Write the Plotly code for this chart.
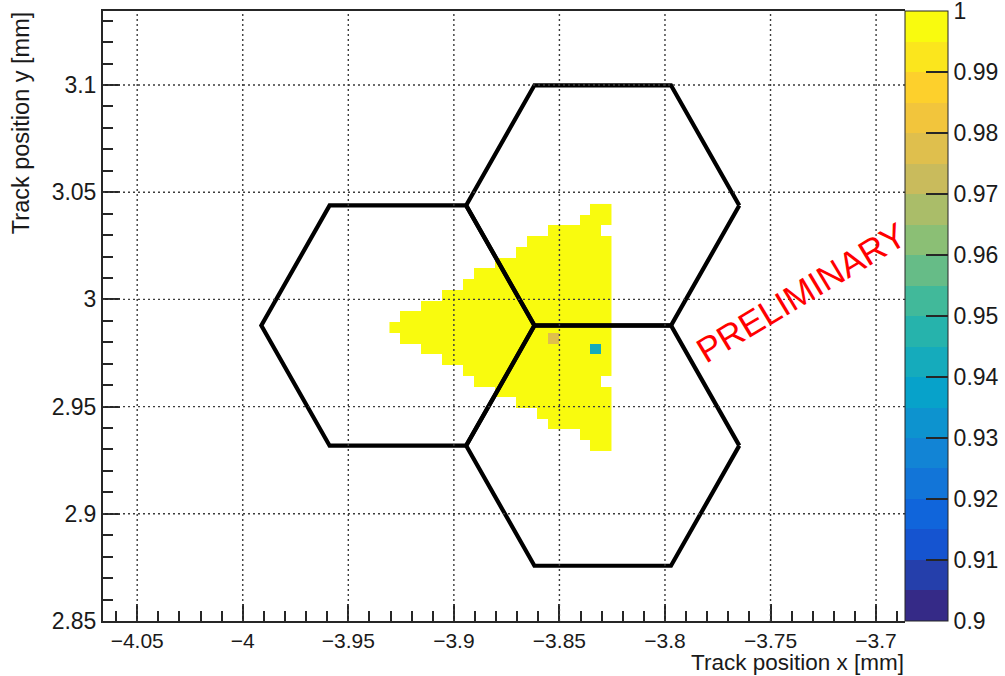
import numpy as np
import plotly.graph_objects as go

# ---- histogram binning (mm) ----
x_first_edge = -3.9305
y_first_edge = 2.9295
bin_size = 0.005
n_x_bins = 21
n_y_bins = 23

# filled bins per row, counted from the right-most column, rows listed top to bottom
filled_per_row = [2, 3, 6, 8, 9, 11, 13, 14, 16, 18, 20, 21,
                  20, 18, 16, 14, 13, 11, 9, 7, 6, 3, 2]

# efficiency of the scanned bins
base_eff = 1.0

# bins inside the scanned area without entries
empty_x = [-3.828, -3.828]
empty_y = [3.032, 2.962]

# bins with efficiency below 1
low_x = [-3.853, -3.833]
low_y = [2.982, 2.977]
low_eff = [0.978, 0.942]

# pixel cells (hexagonal, flat-top)
hex_center_x = [-3.9265, -3.8295, -3.8295]
hex_center_y = [2.9878, 3.0438, 2.9318]
hex_radius = 0.0647

# axes
x_range = [-4.0662, -3.6863]
y_range = [2.85, 3.1345]
x_tick_vals = [-4.05, -4.0, -3.95, -3.9, -3.85, -3.8, -3.75, -3.7]
x_tick_text = ["\u22124.05", "\u22124", "\u22123.95", "\u22123.9", "\u22123.85",
               "\u22123.8", "\u22123.75", "\u22123.7"]
y_tick_vals = [2.85, 2.9, 2.95, 3.0, 3.05, 3.1]
y_tick_text = ["2.85", "2.9", "2.95", "3", "3.05", "3.1"]
z_tick_vals = [0.9, 0.91, 0.92, 0.93, 0.94, 0.95, 0.96, 0.97, 0.98, 0.99, 1.0]
z_tick_text = ["0.9", "0.91", "0.92", "0.93", "0.94", "0.95", "0.96",
               "0.97", "0.98", "0.99", "1"]
z_min, z_max = 0.9, 1.0
n_levels = 20

# ---- build the 2D efficiency map ----
x_centers = x_first_edge + bin_size * (np.arange(n_x_bins) + 0.5)
y_centers = y_first_edge + bin_size * (np.arange(n_y_bins) + 0.5)
z = np.full((n_y_bins, n_x_bins), np.nan)
for r, n in enumerate(filled_per_row):
    k = n_y_bins - 1 - r
    z[k, n_x_bins - n:] = base_eff


def bin_index(x, y):
    i = int(round((x - x_first_edge) / bin_size - 0.5))
    k = int(round((y - y_first_edge) / bin_size - 0.5))
    return k, i


for ex, ey in zip(empty_x, empty_y):
    k, i = bin_index(ex, ey)
    z[k, i] = np.nan
for lx, ly, lv in zip(low_x, low_y, low_eff):
    k, i = bin_index(lx, ly)
    z[k, i] = lv

z_list = [[None if np.isnan(v) else float(v) for v in row] for row in z]

# ---- ROOT "bird" palette, discretised into contour levels ----
bird_stops = [0.0, 0.125, 0.25, 0.375, 0.5, 0.625, 0.75, 0.875, 1.0]
bird_r = [0.2082, 0.0592, 0.0780, 0.0232, 0.1802, 0.5301, 0.8186, 0.9956, 0.9764]
bird_g = [0.1664, 0.3599, 0.5041, 0.6419, 0.7178, 0.7492, 0.7328, 0.7862, 0.9832]
bird_b = [0.5293, 0.8684, 0.8385, 0.7914, 0.6425, 0.4662, 0.3499, 0.1968, 0.0539]


def bird(t):
    r = np.interp(t, bird_stops, bird_r)
    g = np.interp(t, bird_stops, bird_g)
    b = np.interp(t, bird_stops, bird_b)
    return "rgb(%d,%d,%d)" % (round(r * 255), round(g * 255), round(b * 255))


colorscale = []
for lvl in range(n_levels):
    c = bird(lvl / (n_levels - 1))
    colorscale.append([lvl / n_levels, c])
    colorscale.append([(lvl + 1) / n_levels, c])

axis_color = "#262626"
text_color = "#1a1a1a"
font_family = "Liberation Sans, Arial, Helvetica, sans-serif"

fig = go.Figure()

fig.add_trace(go.Heatmap(
    x=x_centers, y=y_centers, z=z_list,
    zmin=z_min, zmax=z_max, colorscale=colorscale,
    hoverongaps=False,
    colorbar=dict(
        x=1.0, xanchor="left", xpad=0,
        y=0.5, yanchor="middle", ypad=0,
        len=1.0, lenmode="fraction",
        thickness=43, thicknessmode="pixels",
        outlinewidth=1, outlinecolor=axis_color,
        ticks="inside", ticklen=22, tickwidth=2, tickcolor=axis_color,
        tickmode="array", tickvals=z_tick_vals, ticktext=z_tick_text,
        ticklabeloverflow="allow",
        tickfont=dict(family=font_family, size=23, color=text_color),
    ),
))

# hexagonal pixel outlines
angles = np.deg2rad(np.arange(0, 361, 60))
for cx, cy in zip(hex_center_x, hex_center_y):
    fig.add_trace(go.Scatter(
        x=cx + hex_radius * np.cos(angles),
        y=cy + hex_radius * np.sin(angles),
        mode="lines", line=dict(color="black", width=4.2),
        hoverinfo="skip", showlegend=False,
    ))

# dotted grid drawn on top of the map
grid_style = dict(color="#3c3c3c", width=1.4, dash="2px,3px")
for xv in x_tick_vals:
    fig.add_shape(type="line", xref="x", yref="paper", x0=xv, x1=xv, y0=0, y1=1,
                  line=grid_style, layer="above")
for yv in y_tick_vals[1:]:
    fig.add_shape(type="line", xref="paper", yref="y", x0=0, x1=1, y0=yv, y1=yv,
                  line=grid_style, layer="above")

fig.update_xaxes(
    range=x_range, showgrid=False, zeroline=False,
    showline=True, linewidth=2, linecolor=axis_color, mirror=True,
    ticks="inside", ticklen=17, tickwidth=1.5, tickcolor=axis_color,
    tickmode="array", tickvals=x_tick_vals, ticktext=x_tick_text,
    tickfont=dict(family=font_family, size=21, color=text_color),
    minor=dict(ticks="inside", ticklen=10, tickwidth=1.5, tickcolor=axis_color,
               tickmode="linear", tick0=-4.05, dtick=0.01, showgrid=False),
)
fig.update_yaxes(
    range=y_range, showgrid=False, zeroline=False,
    showline=True, linewidth=2, linecolor=axis_color, mirror=False,
    ticks="inside", ticklen=17, tickwidth=1.5, tickcolor=axis_color,
    tickmode="array", tickvals=y_tick_vals, ticktext=y_tick_text,
    tickfont=dict(family=font_family, size=23, color=text_color),
    minor=dict(ticks="inside", ticklen=10, tickwidth=1.5, tickcolor=axis_color,
               tickmode="linear", tick0=2.85, dtick=0.01, showgrid=False),
)

fig.add_annotation(
    text="Track position x [mm]", xref="paper", yref="paper",
    x=1.0, y=-0.0902, xanchor="right", yanchor="bottom", showarrow=False,
    borderpad=0,
    font=dict(family=font_family, size=22.5, color=text_color),
)
fig.add_annotation(
    text="Track position y [mm]", xref="paper", yref="paper",
    x=-0.103, y=1.002, xanchor="center", yanchor="top", textangle=-90,
    showarrow=False,
    font=dict(family=font_family, size=23.5, color=text_color),
)
fig.add_annotation(
    text="PRELIMINARY", xref="x", yref="y", x=-3.7355, y=3.003,
    textangle=-31, showarrow=False,
    font=dict(family=font_family, size=35, color="#ff0000"),
)

fig.update_layout(
    width=1005, height=676, autosize=False,
    margin=dict(l=103, r=100, t=11, b=55, autoexpand=False),
    plot_bgcolor="white", paper_bgcolor="white",
    showlegend=False,
    font=dict(family=font_family, size=21, color=text_color),
)

fig.write_html("out.html")
